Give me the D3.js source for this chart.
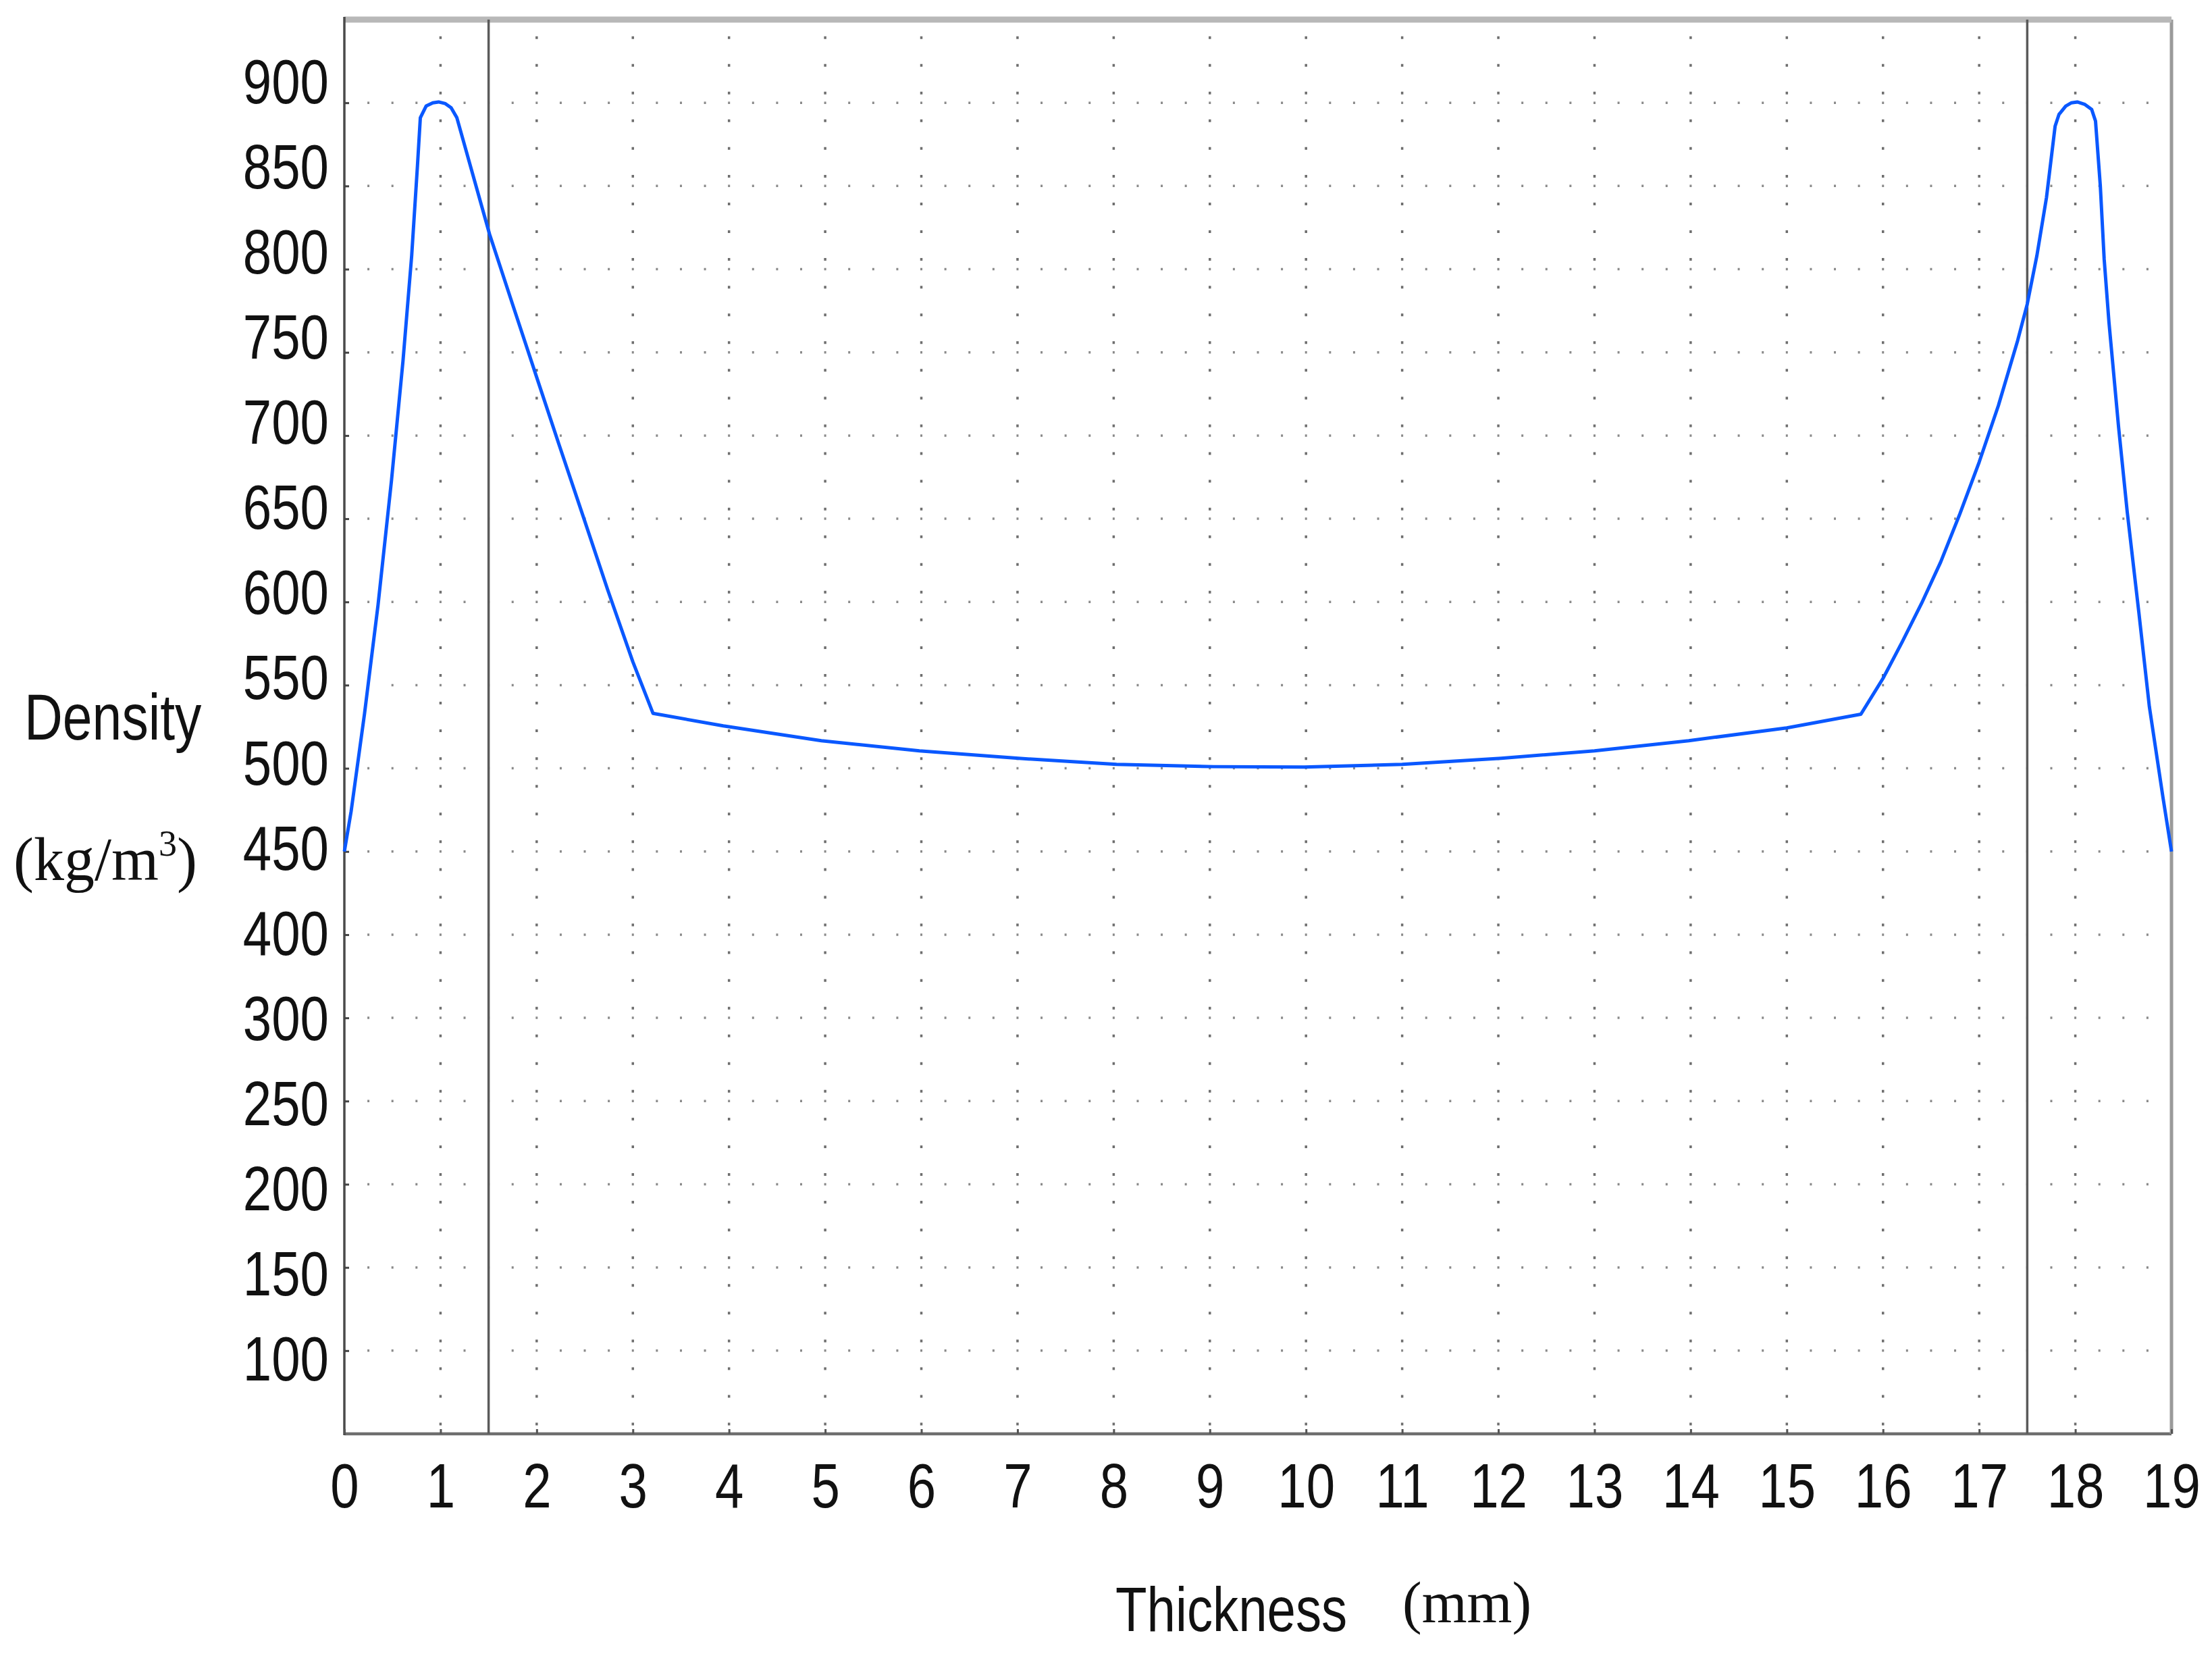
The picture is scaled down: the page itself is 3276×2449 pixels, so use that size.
<!DOCTYPE html>
<html>
<head>
<meta charset="utf-8">
<script src="https://cdnjs.cloudflare.com/ajax/libs/d3/7.8.5/d3.min.js"></script>
<style>
	body { margin: 0; background: #fff; }
	svg { display: block; }
	.tick-label { font-family: 'Liberation Sans', Arial, sans-serif; fill: #111; }
	.unit { font-family: 'Liberation Serif', 'Times New Roman', serif; fill: #111; }
</style>
</head>
<body>
<div id="chart"></div>
<script>
let width = 3276
let height = 2449

let margins = {
	'top' : 29,
	'right' : 60,
	'bottom' : 326,
	'left' : 510,
}

// the original uses a narrow sans face, so plain sans text is squeezed
let narrow = 'scale(0.82,1)'

// density profile (thickness in mm, density in kg/m3)
let thickness = [0, 0.07, 0.21, 0.35, 0.49, 0.61, 0.70, 0.76, 0.79, 0.85, 0.92, 0.98, 1.05, 1.11, 1.17,
	1.51, 1.76, 2.0, 2.23, 2.48, 2.74, 3.0, 3.21,
	3.94, 4.96, 5.98, 7.01, 8.03, 9.04, 9.98, 11.0, 12.03, 13.0, 13.98, 15.0, 15.77,
	16.0, 16.2, 16.4, 16.6, 16.8, 17.0, 17.2, 17.4, 17.5, 17.6, 17.7, 17.79,
	17.83, 17.9, 17.96, 18.02, 18.1, 18.17, 18.21,
	18.26, 18.3, 18.35, 18.45, 18.54, 18.66, 18.77, 18.91, 19]
let density = [450, 474, 533, 598, 673, 745, 808, 862, 891, 898, 900, 900.5, 899.5, 897, 891,
	821, 777, 735, 695, 652, 607, 564, 533,
	525.5, 516.6, 510.5, 506, 502.4, 501, 500.7, 502.4, 506, 510.5, 516.6, 524.3, 532.5,
	554, 576, 599, 624, 653, 684, 718, 757, 779, 808, 843, 886,
	893, 898, 900, 900.5, 899, 896, 889,
	850, 806, 768, 705, 654, 594, 537, 483, 450]

let xTicks = d3.range(0, 20)
let gridValues = d3.range(900, 100, -50)
// the printed labels skip 350
let yTickLabels = ['900','850','800','750','700','650','600','550','500','450','400','300','250','200','150','100']
let layerLines = [1.5, 17.5]

let points = thickness.map((t, i) => {
	return { t : t, d : density[i] }
})

let xScale = d3.scaleLinear()
	.domain([0, 19])
	.range([margins.left, width - margins.right])

let yScale = d3.scaleLinear()
	.domain([950, 100])
	.range([margins.top, height - margins.bottom])

// label positions drift a little from the grid in the original
let yLabelScale = d3.scalePoint()
	.domain(yTickLabels)
	.range([119, 2010])

let svg = d3.select('#chart').append('svg')
	.attr('width', width)
	.attr('height', height)

let grid = svg.append('g')

let xStep = xScale(0.25) - xScale(0)
let yStep = (yScale(900) - yScale(950)) / 3

grid.selectAll('.vgrid')
	.data(xTicks.filter((d) => d > 0 && d < 19))
	.enter()
	.append('line')
	.attr('x1', (d) => xScale(d))
	.attr('x2', (d) => xScale(d))
	.attr('y1', yScale(950))
	.attr('y2', yScale(100))
	.attr('stroke', '#6e6e6e')
	.attr('stroke-width', 3.5)
	.attr('stroke-dasharray', `4 ${yStep - 4}`)
	.attr('stroke-dashoffset', -yStep * 0.6)

grid.selectAll('.hgrid')
	.data(gridValues)
	.enter()
	.append('line')
	.attr('x1', xScale(0))
	.attr('x2', xScale(19))
	.attr('y1', (d) => yScale(d))
	.attr('y2', (d) => yScale(d))
	.attr('stroke', '#8a8a8a')
	.attr('stroke-width', 3.5)
	.attr('stroke-dasharray', `3 ${xStep - 3}`)
	.attr('stroke-dashoffset', 1.5)

// frame
let frame = svg.append('g')

frame.append('line')
	.attr('x1', xScale(0)).attr('x2', xScale(19))
	.attr('y1', yScale(100)).attr('y2', yScale(100))
	.attr('stroke', '#6e6e6e').attr('stroke-width', 4.5)

frame.append('line')
	.attr('x1', xScale(19)).attr('x2', xScale(19))
	.attr('y1', yScale(950)).attr('y2', yScale(100))
	.attr('stroke', '#9a9a9a').attr('stroke-width', 5)

frame.append('line')
	.attr('x1', xScale(0)).attr('x2', xScale(19))
	.attr('y1', yScale(950)).attr('y2', yScale(950))
	.attr('stroke', '#b8b8b8').attr('stroke-width', 9)

frame.append('line')
	.attr('x1', xScale(0)).attr('x2', xScale(0))
	.attr('y1', yScale(950) - 4).attr('y2', yScale(100) + 2)
	.attr('stroke', '#4a4a4a').attr('stroke-width', 3.5)

frame.selectAll('.layer')
	.data(layerLines)
	.enter()
	.append('line')
	.attr('x1', (d) => xScale(d))
	.attr('x2', (d) => xScale(d))
	.attr('y1', yScale(950))
	.attr('y2', yScale(100))
	.attr('stroke', '#5a5a5a')
	.attr('stroke-width', 3.5)

// axes
let xAxis = d3.axisBottom(xScale)
	.tickValues(xTicks)
	.tickSize(-7)
	.tickPadding(43)

let xAxisG = svg.append('g')
	.attr('transform', `translate(0,${yScale(100)})`)
	.call(xAxis)

xAxisG.select('.domain').remove()
xAxisG.selectAll('.tick line').attr('stroke', '#555').attr('stroke-width', 3)
xAxisG.selectAll('.tick text')
	.attr('class', 'tick-label')
	.attr('transform', narrow)
	.style('font-size', '93px')

let yTickAxis = d3.axisLeft(yScale)
	.tickValues(gridValues)
	.tickSize(-7)
	.tickFormat('')

let yTickG = svg.append('g')
	.attr('transform', `translate(${xScale(0)},0)`)
	.call(yTickAxis)

yTickG.select('.domain').remove()
yTickG.selectAll('.tick line').attr('stroke', '#444').attr('stroke-width', 3)

let yAxis = d3.axisLeft(yLabelScale)
	.tickSize(0)
	.tickPadding(0)

let yAxisG = svg.append('g')
	.attr('transform', `translate(487,0)`)
	.call(yAxis)

yAxisG.select('.domain').remove()
yAxisG.selectAll('.tick text')
	.attr('class', 'tick-label')
	.attr('dy', '0.36em')
	.attr('transform', narrow)
	.style('font-size', '93px')

// curve
let line = d3.line()
	.x((d) => xScale(d.t))
	.y((d) => yScale(d.d))

svg.append('path')
	.datum(points)
	.attr('d', line)
	.attr('fill', 'none')
	.attr('stroke', '#0a58ff')
	.attr('stroke-width', 5)
	.attr('stroke-linejoin', 'round')

// axis titles
let labels = svg.append('g')

labels.append('g')
	.attr('transform', 'translate(36,1095)')
	.append('text')
	.attr('class', 'tick-label')
	.attr('transform', narrow)
	.style('font-size', '96px')
	.text('Density')

let unitY = labels.append('text')
	.attr('class', 'unit')
	.attr('x', 20)
	.attr('y', 1303)
	.style('font-size', '90px')
unitY.append('tspan').text('(kg/m')
unitY.append('tspan').attr('dy', -36).style('font-size', '54px').text('3')
unitY.append('tspan').attr('dy', 36).text(')')

labels.append('g')
	.attr('transform', 'translate(1652,2415)')
	.append('text')
	.attr('class', 'tick-label')
	.attr('transform', narrow)
	.style('font-size', '93px')
	.text('Thickness')

labels.append('text')
	.attr('class', 'unit')
	.attr('x', 2077)
	.attr('y', 2402)
	.style('font-size', '86px')
	.text('(mm)')
</script>
</body>
</html>
